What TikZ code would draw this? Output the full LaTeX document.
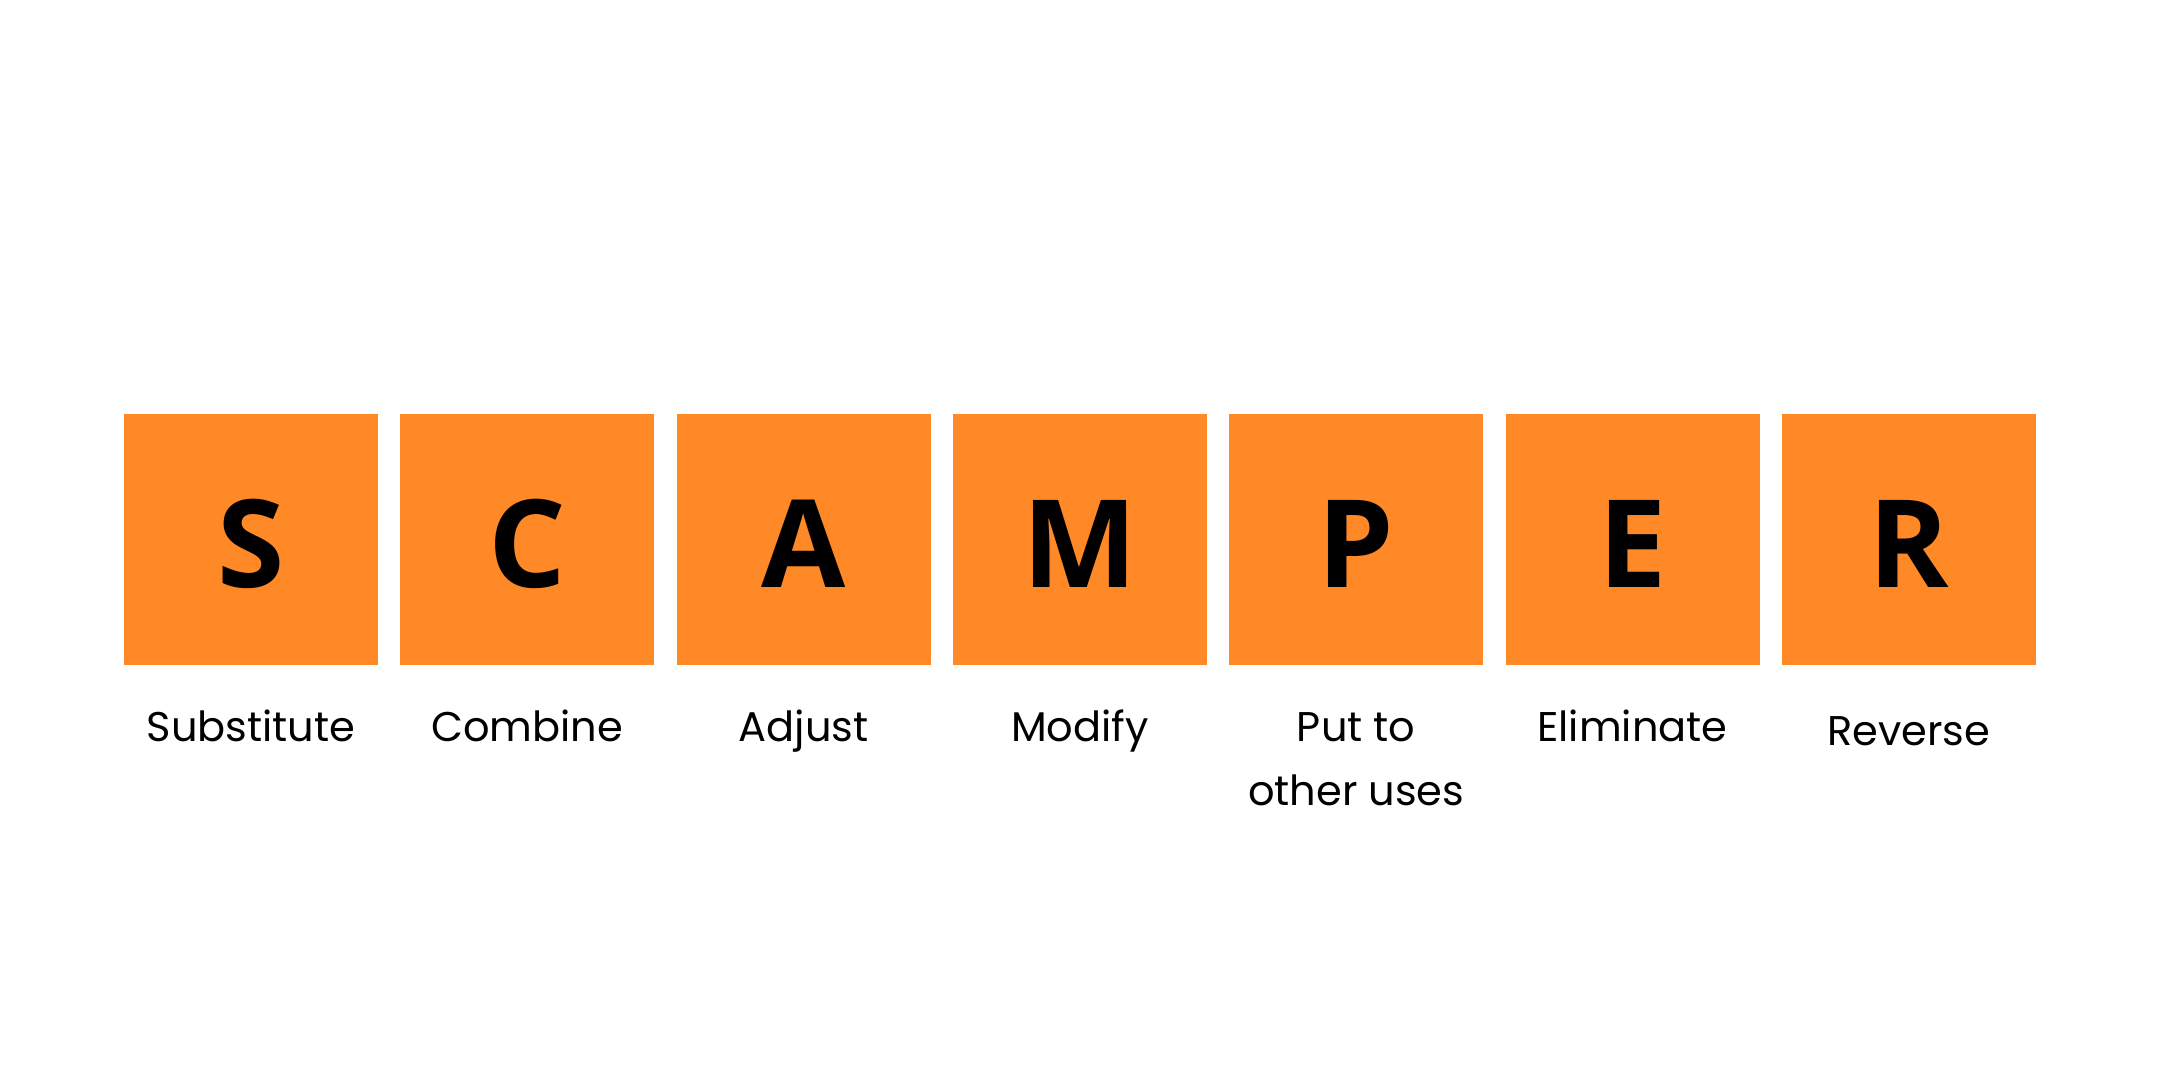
\documentclass[tikz,border=0pt]{standalone}
\usepackage{fontspec}
\newfontfamily\letterfont{Open Sans}[BoldFont={* Bold}]
\newfontfamily\labelfont{Poppins}
\definecolor{scamperorange}{RGB}{255,137,38}
\tikzset{
  letterbox/.style={fill=scamperorange, draw=none, inner sep=0pt,
    minimum width=254pt, minimum height=251pt,
    font=\fontsize{122}{140}\letterfont\bfseries,
    text height=95pt, text depth=0pt},
  caption/.style={anchor=base, inner sep=0pt, align=center,
    font=\fontsize{41.5}{64}\selectfont\labelfont}
}
\begin{document}
\begin{tikzpicture}[x=1pt,y=-1pt]
\useasboundingbox (0,0) rectangle (2160,1080);
\fill[white] (0,0) rectangle (2160,1080);
\foreach \i/\L [count=\n from 0] in {s/S, c/C, a/A, m/M, p/P, e/E, r/R}{
  \node[letterbox] (box\i) at ({251+276.3*\n},539.5) {\L};
}
\node[caption] (lbls) at (boxs.center |- 0,741) {Substitute};
\node[caption] (lblc) at (boxc.center |- 0,741) {Combine};
\node[caption] (lbla) at (boxa.center |- 0,741) {Adjust};
\node[caption] (lblm) at (boxm.center |- 0,741) {Modify};
\node[caption] (lblp) at (boxp.center |- 0,805) {Put to\\other uses};
\node[caption] (lble) at (boxe.center |- 0,741) {Eliminate};
\node[caption] (lblr) at (boxr.center |- 0,745) {Reverse};
\end{tikzpicture}
\end{document}
